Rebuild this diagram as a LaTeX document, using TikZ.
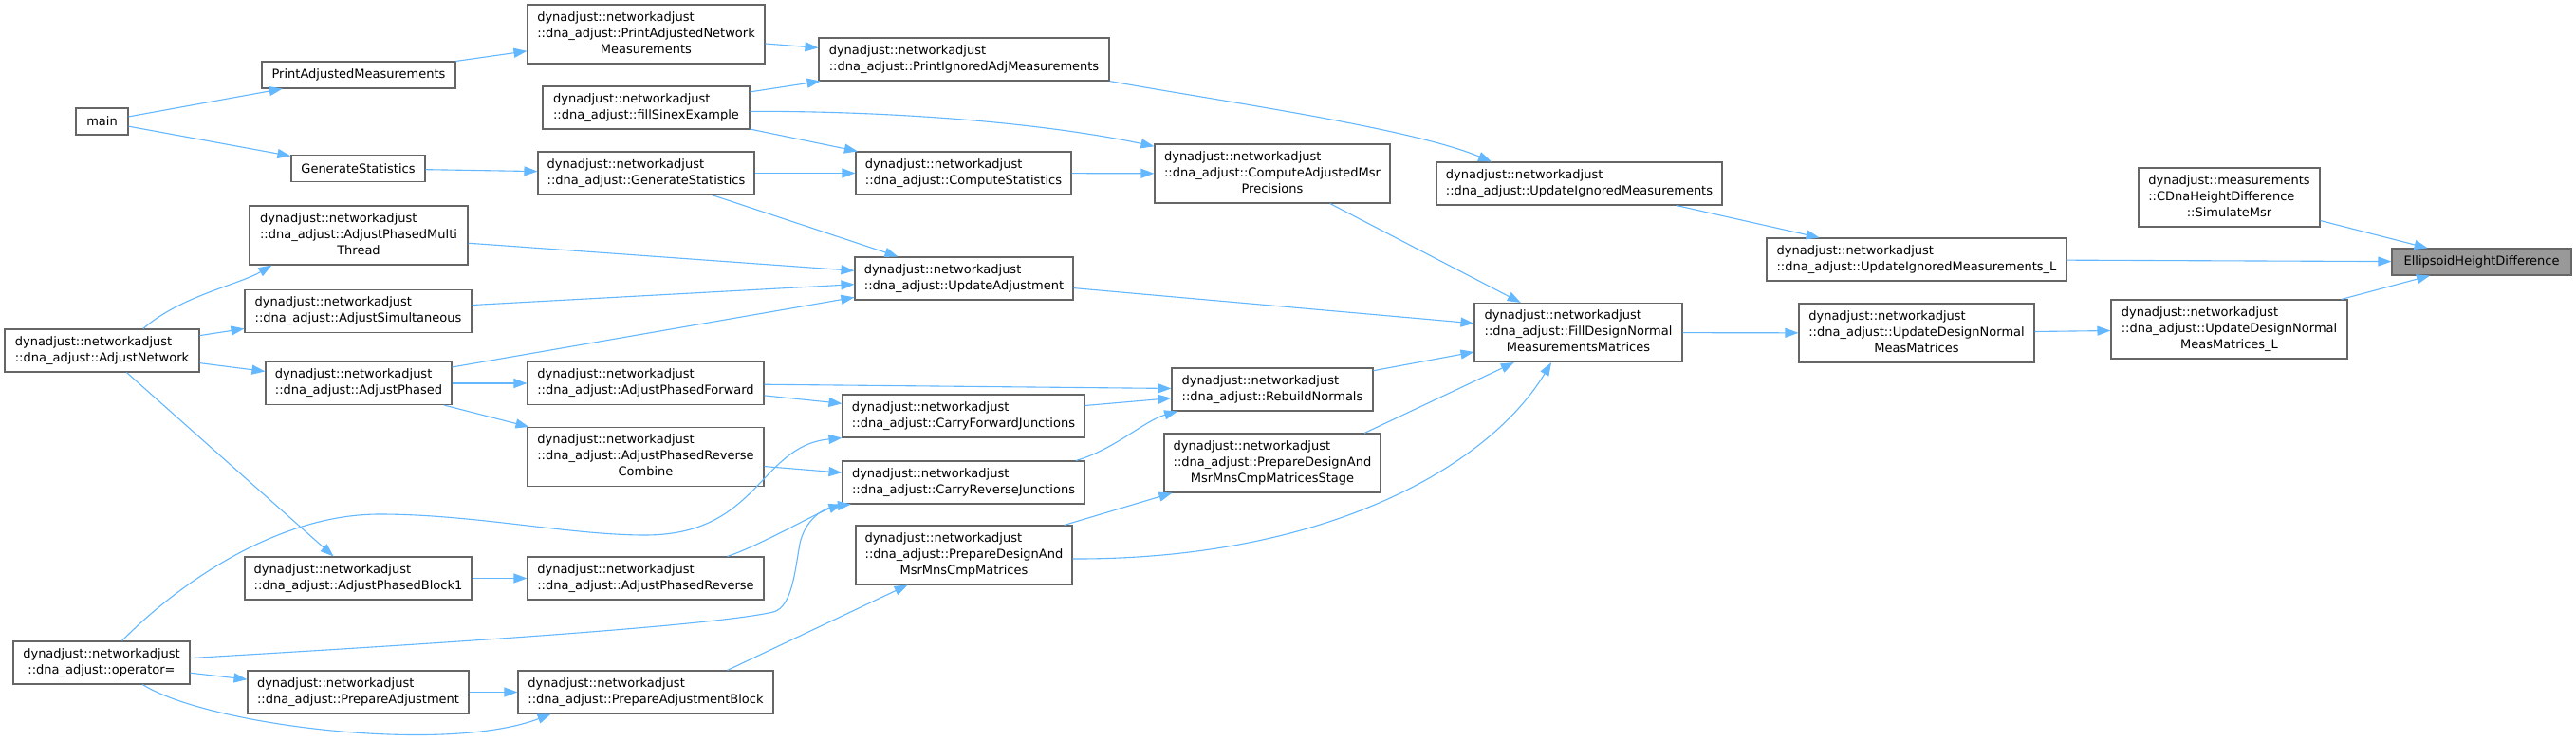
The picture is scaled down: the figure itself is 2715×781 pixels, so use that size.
\documentclass[tikz,border=0pt]{standalone}
\usepackage{fontspec}
\setmainfont{DejaVu Sans}
\usepackage{tikz}
\usetikzlibrary{arrows.meta}
\definecolor{callblue}{RGB}{99,184,255}
\definecolor{boxgrey}{RGB}{102,102,102}
\definecolor{hlgrey}{RGB}{153,153,153}
\newcommand{\nadj}{dynadjust::networkadjust}
\newcommand{\dna}{::dna\_adjust::}
\newcommand{\lbltwo}[2]{\begin{tabular}{@{}l@{}}#1\\\multicolumn{1}{@{}c@{}}{#2}\end{tabular}}
\newcommand{\lblthree}[3]{\begin{tabular}{@{}l@{}}#1\\#2\\\multicolumn{1}{@{}c@{}}{#3}\end{tabular}}
\tikzset{
  fnbox/.style={draw=boxgrey, fill=white, line width=1.1pt, inner sep=0pt,
                font=\fontsize{13}{17}\selectfont, minimum height=45pt},
  oneln/.style={minimum height=28pt},
  threeln/.style={minimum height=62pt},
  fnhl/.style={fnbox, fill=hlgrey, minimum height=28pt},
  callarr/.style={-{Triangle[length=14pt,width=10pt]}, callblue, line width=1.1pt},
}

\begin{document}
\begin{tikzpicture}[x=1pt,y=-1pt]
  \fill[white] (0,0) rectangle (2715,781);
  \useasboundingbox (0,0) rectangle (2715,781);
  % callers, left columns
  \node[fnbox, oneln, minimum width=55pt] (main) at (107.5,128) {main};
  \node[fnbox, minimum width=205pt] (anet) at (107.5,369.5) {\lbltwo{\nadj}{\dna AdjustNetwork}};
  \node[fnbox, minimum width=186pt] (opeq) at (107,698.5) {\lbltwo{\nadj}{\dna operator=}};
  \node[fnbox, oneln, minimum width=204pt] (pam) at (378,79) {PrintAdjustedMeasurements};
  \node[fnbox, oneln, minimum width=141pt] (gs) at (377.5,177.5) {GenerateStatistics};
  \node[fnbox, threeln, minimum width=230pt] (apmt) at (378,248) {\lblthree{\nadj}{\dna AdjustPhasedMulti}{Thread}};
  \node[fnbox, minimum width=239pt] (asim) at (377.5,328) {\lbltwo{\nadj}{\dna AdjustSimultaneous}};
  \node[fnbox, minimum width=196pt] (aph) at (378,404) {\lbltwo{\nadj}{\dna AdjustPhased}};
  \node[fnbox, minimum width=239pt] (apb1) at (377.5,609.5) {\lbltwo{\nadj}{\dna AdjustPhasedBlock1}};
  \node[fnbox, minimum width=233pt] (padj) at (377.5,729.5) {\lbltwo{\nadj}{\dna PrepareAdjustment}};
  % third column
  \node[fnbox, threeln, minimum width=250pt] (panm) at (681,36) {\lblthree{\nadj}{\dna PrintAdjustedNetwork}{Measurements}};
  \node[fnbox, minimum width=218pt] (fse) at (681,113.5) {\lbltwo{\nadj}{\dna fillSinexExample}};
  \node[fnbox, minimum width=228pt] (dgs) at (681,182.5) {\lbltwo{\nadj}{\dna GenerateStatistics}};
  \node[fnbox, minimum width=249pt] (apf) at (680.5,404) {\lbltwo{\nadj}{\dna AdjustPhasedForward}};
  \node[fnbox, threeln, minimum width=249pt] (aprc) at (680.5,481.5) {\lblthree{\nadj}{\dna AdjustPhasedReverse}{Combine}};
  \node[fnbox, minimum width=249pt] (apr) at (680.5,609.5) {\lbltwo{\nadj}{\dna AdjustPhasedReverse}};
  \node[fnbox, minimum width=269pt] (pblk) at (680.5,729.5) {\lbltwo{\nadj}{\dna PrepareAdjustmentBlock}};
  % fourth column
  \node[fnbox, minimum width=306pt] (piam) at (1016,62.5) {\lbltwo{\nadj}{\dna PrintIgnoredAdjMeasurements}};
  \node[fnbox, minimum width=227pt] (cstat) at (1015.5,182.5) {\lbltwo{\nadj}{\dna ComputeStatistics}};
  \node[fnbox, minimum width=230pt] (uadj) at (1016,293.5) {\lbltwo{\nadj}{\dna UpdateAdjustment}};
  \node[fnbox, minimum width=255pt] (cfj) at (1015.5,438.5) {\lbltwo{\nadj}{\dna CarryForwardJunctions}};
  \node[fnbox, minimum width=255pt] (crj) at (1015.5,508.5) {\lbltwo{\nadj}{\dna CarryReverseJunctions}};
  \node[fnbox, threeln, minimum width=228pt] (pdm) at (1016,585) {\lblthree{\nadj}{\dna PrepareDesignAnd}{MsrMnsCmpMatrices}};
  % fifth column
  \node[fnbox, threeln, minimum width=248pt] (camp) at (1341,183) {\lblthree{\nadj}{\dna ComputeAdjustedMsr}{Precisions}};
  \node[fnbox, minimum width=212pt] (rbn) at (1341,410.5) {\lbltwo{\nadj}{\dna RebuildNormals}};
  \node[fnbox, threeln, minimum width=228pt] (pdms) at (1341,488) {\lblthree{\nadj}{\dna PrepareDesignAnd}{MsrMnsCmpMatricesStage}};
  % right part
  \node[fnbox, minimum width=301pt] (uim) at (1664.5,193.5) {\lbltwo{\nadj}{\dna UpdateIgnoredMeasurements}};
  \node[fnbox, threeln, minimum width=219pt] (fdn) at (1663.5,350.5) {\lblthree{\nadj}{\dna FillDesignNormal}{MeasurementsMatrices}};
  \node[fnbox, minimum width=316pt] (uiml) at (2020,273.5) {\lbltwo{\nadj}{\dna UpdateIgnoredMeasurements\_L}};
  \node[fnbox, threeln, minimum width=248pt] (udn) at (2020,351) {\lblthree{\nadj}{\dna UpdateDesignNormal}{MeasMatrices}};
  \node[fnbox, threeln, minimum width=191pt] (sim) at (2349.5,208) {\lblthree{dynadjust::measurements}{::CDnaHeightDifference}{::SimulateMsr}};
  \node[fnbox, threeln, minimum width=249pt] (udnl) at (2349.5,347) {\lblthree{\nadj}{\dna UpdateDesignNormal}{MeasMatrices\_L}};
  \node[fnhl, minimum width=189pt] (ehd) at (2615.5,276) {EllipsoidHeightDifference};

  % straight calls
  \foreach \a/\b in {main/pam, main/gs, pam/panm, gs/dgs, panm/piam, fse/piam, fse/cstat,
                     dgs/cstat, dgs/uadj, cstat/camp, camp/fdn, uadj/fdn, rbn/fdn,
                     uim/uiml, fdn/udn, udn/udnl, uiml/ehd, sim/ehd, udnl/ehd,
                     apmt/uadj, asim/uadj, aph/uadj, anet/asim, anet/aph, anet/apb1,
                     aph/apf, aph/aprc, apf/rbn, apf/cfj, cfj/rbn, aprc/crj, apb1/apr,
                     opeq/padj, padj/pblk, pdm/pdms}
    \draw[callarr] (\a) -- (\b);
  \draw[callarr] (pblk.15) -- (pdm.208);
  \draw[callarr] (pdms.18) -- (fdn.205);

  % curved calls
  \draw[callarr] (anet.28) .. controls (190,312) and (252,300) .. (apmt.199);
  \draw[callarr] (fse.-2) .. controls (940,117) and (1097,129) .. (camp.167);
  \draw[callarr] (piam.south east) .. controls (1289,107) and (1487,135) .. (uim.166);
  \draw[callarr] (pdm.-2.5) .. controls (1400,590) and (1570,490) .. (fdn.228);
  \draw[callarr] (crj.11) .. controls (1174,474) and (1207,443) .. (rbn.193.5);
  \draw[callarr] (apr.15) .. controls (801,575) and (862,540) .. (crj.south west);
  \draw[callarr] (opeq.47) .. controls (185,618) and (290,542) .. (400,542)
    .. controls (500,542) and (600,564) .. (680,564)
    .. controls (800,564) and (800,470) .. (cfj.south west);
  \draw[callarr] (opeq.3) .. controls (450,679) and (750,660) .. (815,645)
    .. controls (835,640) and (838,600) .. (843,573)
    .. controls (848,550) and (865,535) .. (crj.191);
  \draw[callarr] (opeq.-28) .. controls (220,765) and (470,795) .. (pblk.193);
\end{tikzpicture}
\end{document}
